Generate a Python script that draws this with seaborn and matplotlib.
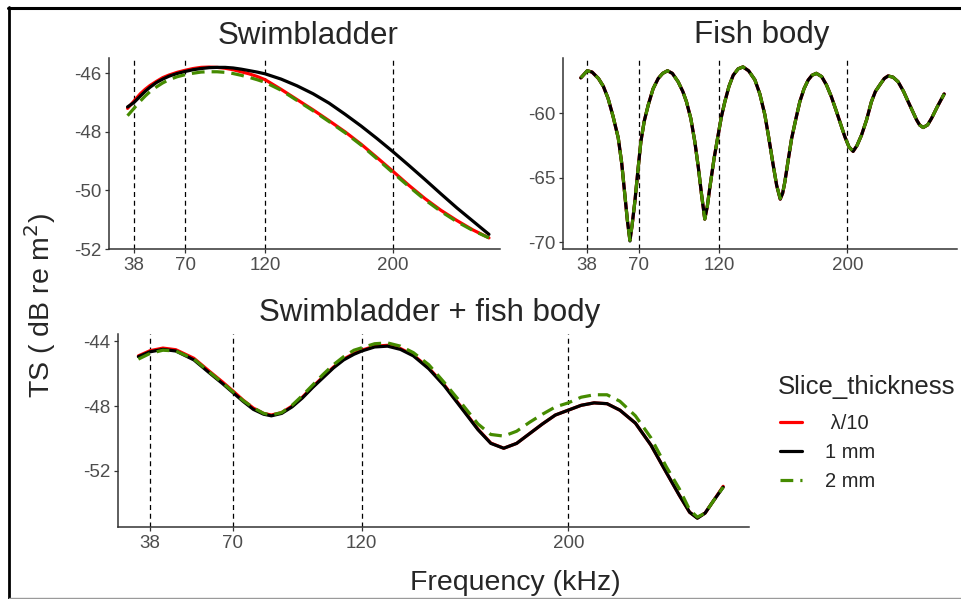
import numpy as np
import pandas as pd
import matplotlib
matplotlib.use("Agg")
import matplotlib.pyplot as plt
from matplotlib.lines import Line2D
import seaborn as sns

# ---------------- data ----------------
thickness_levels = ["λ/10", "1 mm", "2 mm"]
legend_labels = [" λ/10", "1 mm", "2 mm"]
ref_freqs = [38, 70, 120, 200]

# Swimbladder
sb_freq = [34, 38, 42, 45, 48, 52, 56, 60, 65, 70, 75, 80, 85, 90, 95, 100, 105, 110, 115, 120,
           130, 140, 150, 160, 170, 180, 190, 200, 210, 220, 230, 240, 250, 260]
sb_lambda = [-47.2, -46.95, -46.7, -46.55, -46.42, -46.28, -46.15, -46.06, -45.97, -45.9, -45.84,
             -45.8, -45.79, -45.8, -45.83, -45.88, -45.95, -46.02, -46.11, -46.22, -46.55, -46.9,
             -47.25, -47.62, -48.0, -48.42, -48.88, -49.35, -49.83, -50.28, -50.68, -51.03,
             -51.35, -51.62]
sb_1mm = [-47.15, -47.0, -46.78, -46.62, -46.48, -46.32, -46.2, -46.1, -46.01, -45.94, -45.88,
          -45.84, -45.81, -45.8, -45.8, -45.82, -45.86, -45.91, -45.96, -46.02, -46.2, -46.43,
          -46.7, -47.02, -47.4, -47.8, -48.23, -48.68, -49.15, -49.63, -50.12, -50.6, -51.05,
          -51.5]
sb_2mm = [-47.45, -47.2, -46.95, -46.78, -46.63, -46.47, -46.33, -46.22, -46.12, -46.05, -46.0,
          -45.96, -45.95, -45.95, -45.97, -46.01, -46.07, -46.14, -46.22, -46.31, -46.58, -46.93,
          -47.28, -47.65, -48.03, -48.45, -48.92, -49.4, -49.87, -50.32, -50.72, -51.07, -51.37,
          -51.62]

# Fish body
fb_freq = [34, 38, 41, 45, 48, 51, 54, 57.3, 59.5, 61.4, 63, 64.6, 66, 67.7, 69.5, 71.4, 73.5, 76,
           79, 82.2, 85, 88, 91, 94.6, 97.5, 99.8, 102.5, 105, 107.2, 109.2, 111.2, 112.8, 114.3,
           117, 119.5, 121.5, 123.7, 126.3, 128.9, 132, 135, 138.5, 142.4, 145.5, 148.6, 151.2,
           153.8, 156, 158.2, 159.7, 161.1, 163.2, 165.3, 168, 170.4, 173, 175.6, 178, 180.7, 184,
           187, 190, 193.2, 196, 198.4, 201, 203.6, 206, 208.8, 212, 215, 217.5, 220.2, 223,
           225.4, 228.5, 231.6, 235, 237.9, 240.5, 243.1, 245, 247.2, 250, 252.4, 256, 260.3]
fb_lambda = [-57.25, -56.7, -56.8, -57.3, -57.9, -58.85, -60.2, -61.9, -63.9, -66.3, -68.3, -69.85,
             -68.6, -66.8, -64.5, -62.2, -60.6, -59.35, -58.1, -57.3, -56.9, -56.7, -56.9, -57.55,
             -58.3, -59.1, -60.4, -62.2, -64.2, -66.3, -68.2, -67.2, -65.8, -63.5, -61.7, -60.3,
             -59.1, -57.9, -57.05, -56.55, -56.4, -56.7, -57.4, -58.5, -60.1, -62.0, -64.0, -65.6,
             -66.65, -66.2, -65.3, -63.6, -61.95, -60.4, -59.1, -58.1, -57.42, -57.05, -56.9,
             -57.15, -57.8, -58.7, -59.85, -60.9, -61.8, -62.6, -62.95, -62.5, -61.7, -60.5, -59.1,
             -58.3, -57.8, -57.3, -57.1, -57.2, -57.55, -58.3, -59.1, -59.8, -60.5, -60.9, -61.1,
             -60.9, -60.4, -59.5, -58.5]
fb_1mm = [-57.25, -56.7, -56.8, -57.3, -57.9, -58.85, -60.2, -61.9, -63.9, -66.3, -68.3, -69.9,
          -68.6, -66.8, -64.5, -62.2, -60.6, -59.35, -58.1, -57.3, -56.9, -56.7, -56.9, -57.55,
          -58.3, -59.1, -60.4, -62.2, -64.2, -66.3, -68.2, -67.2, -65.8, -63.5, -61.7, -60.3,
          -59.1, -57.9, -57.05, -56.55, -56.4, -56.7, -57.4, -58.5, -60.1, -62.0, -64.0, -65.6,
          -66.65, -66.2, -65.3, -63.6, -61.95, -60.4, -59.1, -58.1, -57.42, -57.05, -56.9,
          -57.15, -57.8, -58.7, -59.85, -60.9, -61.8, -62.6, -62.95, -62.5, -61.7, -60.5, -59.1,
          -58.3, -57.8, -57.3, -57.1, -57.2, -57.55, -58.3, -59.1, -59.8, -60.5, -60.9, -61.1,
          -60.9, -60.4, -59.5, -58.5]
fb_2mm = [-57.25, -56.7, -56.8, -57.3, -57.9, -58.85, -60.2, -61.9, -63.9, -66.3, -68.3, -69.85,
          -68.6, -66.8, -64.5, -62.2, -60.6, -59.35, -58.1, -57.3, -56.9, -56.7, -56.9, -57.55,
          -58.3, -59.1, -60.4, -62.2, -64.2, -66.3, -68.2, -67.2, -65.8, -63.5, -61.7, -60.3,
          -59.1, -57.9, -57.05, -56.55, -56.4, -56.7, -57.4, -58.5, -60.1, -62.0, -64.0, -65.6,
          -66.6, -66.2, -65.3, -63.6, -61.95, -60.4, -59.1, -58.1, -57.42, -57.05, -56.9,
          -57.15, -57.8, -58.7, -59.85, -60.9, -61.8, -62.6, -62.95, -62.5, -61.7, -60.5, -59.1,
          -58.3, -57.8, -57.3, -57.1, -57.2, -57.55, -58.3, -59.1, -59.8, -60.5, -60.9, -61.1,
          -60.9, -60.4, -59.5, -58.5]

# Swimbladder + fish body
cb_freq = [33.5, 38, 43, 48, 55, 61, 66, 70, 74, 78, 82, 85, 89, 93, 97, 101, 105, 109, 113, 117,
           120, 125, 130, 135, 140, 146, 152, 159, 165, 170, 175, 180, 185, 190, 195, 200, 205,
           210, 215, 220, 226, 232, 238, 243, 247, 250, 253, 256, 260]
cb_lambda = [-44.9, -44.58, -44.42, -44.52, -45.05, -45.85, -46.5, -47.05, -47.62, -48.12, -48.45,
             -48.55, -48.4, -48.0, -47.45, -46.8, -46.2, -45.6, -45.1, -44.75, -44.55, -44.3,
             -44.25, -44.45, -44.85, -45.65, -46.7, -48.15, -49.42, -50.28, -50.6, -50.3, -49.7,
             -49.1, -48.55, -48.25, -47.95, -47.8, -47.85, -48.25, -49.05, -50.4, -52.1, -53.5,
             -54.55, -54.9, -54.6, -53.9, -52.95]
cb_1mm = [-44.95, -44.65, -44.5, -44.6, -45.15, -45.95, -46.6, -47.15, -47.7, -48.2, -48.5, -48.6,
          -48.45, -48.05, -47.5, -46.85, -46.25, -45.65, -45.15, -44.8, -44.6, -44.35, -44.3,
          -44.5, -44.9, -45.7, -46.75, -48.2, -49.45, -50.3, -50.6, -50.3, -49.7, -49.1, -48.55,
          -48.25, -47.95, -47.8, -47.85, -48.25, -49.05, -50.4, -52.1, -53.5, -54.55, -54.92,
          -54.6, -53.9, -53.0]
cb_2mm = [-45.1, -44.75, -44.55, -44.6, -45.1, -45.9, -46.55, -47.1, -47.65, -48.1, -48.45, -48.55,
          -48.4, -47.95, -47.35, -46.7, -46.05, -45.45, -44.95, -44.55, -44.4, -44.15, -44.1,
          -44.3, -44.7, -45.45, -46.55, -47.9, -49.1, -49.75, -49.85, -49.55, -49.0, -48.5,
          -48.05, -47.8, -47.45, -47.3, -47.3, -47.7, -48.6, -49.95, -51.75, -53.1, -54.4,
          -54.85, -54.6, -53.9, -53.0]

# ---------------- styling ----------------
sns.set_theme(style="white")
plt.rcParams['font.family'] = ['Liberation Sans', 'DejaVu Sans']

palette = {"λ/10": "#FF0000", "1 mm": "#000000", "2 mm": "#458B00"}
dashes = {"λ/10": "", "1 mm": "", "2 mm": (4, 2.2)}


def long_frame(freq, series):
    parts = []
    for lvl, vals in zip(thickness_levels, series):
        parts.append(pd.DataFrame({"Frequency": freq, "TS": vals, "Slice_thickness": lvl}))
    return pd.concat(parts, ignore_index=True)


W, H = 962, 599
fig = plt.figure(figsize=(W / 100, H / 100), dpi=100)


def ax_at(x0, y0, x1, y1):
    return fig.add_axes([x0 / W, 1 - y1 / H, (x1 - x0) / W, (y1 - y0) / H])


panels = [
    (ax_at(109, 58, 500, 249), sb_freq, [sb_lambda, sb_1mm, sb_2mm],
     (22.4, 266.9), (-51.99, -45.48), [-52, -50, -48, -46]),
    (ax_at(563, 58, 957, 249), fb_freq, [fb_lambda, fb_1mm, fb_2mm],
     (22.9, 268.3), (-70.52, -55.71), [-70, -65, -60]),
    (ax_at(118, 334, 749, 527), cb_freq, [cb_lambda, cb_1mm, cb_2mm],
     (25.6, 270.0), (-55.46, -43.55), [-52, -48, -44]),
]

for ax, freq, series, xl, yl, yt in panels:
    ax.set_facecolor("white")
    for f in ref_freqs:
        ax.axvline(f, color="black", lw=0.9, dashes=(4, 3), zorder=1)
    df = long_frame(freq, series)
    sns.lineplot(data=df, x="Frequency", y="TS", hue="Slice_thickness", style="Slice_thickness",
                 hue_order=thickness_levels, style_order=thickness_levels,
                 palette=palette, dashes=dashes, linewidth=2.3, estimator=None,
                 legend=False, ax=ax, zorder=3)
    ax.set_xlim(*xl)
    ax.set_ylim(*yl)
    ax.set_xticks(ref_freqs)
    ax.set_yticks(yt)
    ax.set_xticklabels([str(v) for v in ref_freqs])
    ax.set_yticklabels([str(v) for v in yt])
    ax.set_xlabel("")
    ax.set_ylabel("")
    for s in ["top", "right"]:
        ax.spines[s].set_visible(False)
    for s in ["left", "bottom"]:
        ax.spines[s].set_color("#333333")
        ax.spines[s].set_linewidth(1.1)
    ax.tick_params(bottom=True, left=True, direction="out", length=3, width=0.9,
                   color="#333333", labelcolor="#4D4D4D", labelsize=13.5, pad=2.5)

# titles and axis labels
fig.text(308 / W, 1 - 43.5 / H, "Swimbladder", ha="center", va="baseline", fontsize=22.5)
fig.text(762 / W, 1 - 43.5 / H, "Fish body", ha="center", va="baseline", fontsize=22.5)
fig.text(430 / W, 1 - 320.5 / H, "Swimbladder + fish body", ha="center", va="baseline",
         fontsize=22.5)
fig.text(515 / W, 1 - 590 / H, "Frequency (kHz)", ha="center", va="baseline", fontsize=20.5)
fig.text(40 / W, 1 - 305 / H, r"TS ( dB re m$^2$)", ha="center", va="center",
         rotation=90, fontsize=20.5)

# legend
fig.text(778 / W, 1 - 394 / H, "Slice_thickness", ha="left", va="baseline", fontsize=18.5)
handles = [Line2D([0], [0], color=palette["λ/10"], lw=2.3),
           Line2D([0], [0], color=palette["1 mm"], lw=2.3),
           Line2D([0], [0], color=palette["2 mm"], lw=2.3, dashes=(4, 2.2))]
fig.legend(handles, legend_labels, loc="upper left",
           bbox_to_anchor=(780 / W, 1 - 414 / H), frameon=False, fontsize=14.5,
           handlelength=1.1, handletextpad=1.15, labelspacing=0.5,
           borderpad=0, borderaxespad=0)

# screenshot frame
fig.add_artist(Line2D([9 / W, 9 / W], [0.0, 1 - 7 / H], color="black", lw=2.0))
fig.add_artist(Line2D([8 / W, 1.0], [1 - 8 / H, 1 - 8 / H], color="black", lw=2.2))
fig.add_artist(Line2D([9 / W, 1.0], [1 - 597.5 / H, 1 - 597.5 / H], color="#9a9a9a", lw=1.0))

fig.savefig("out.png", dpi=100)
